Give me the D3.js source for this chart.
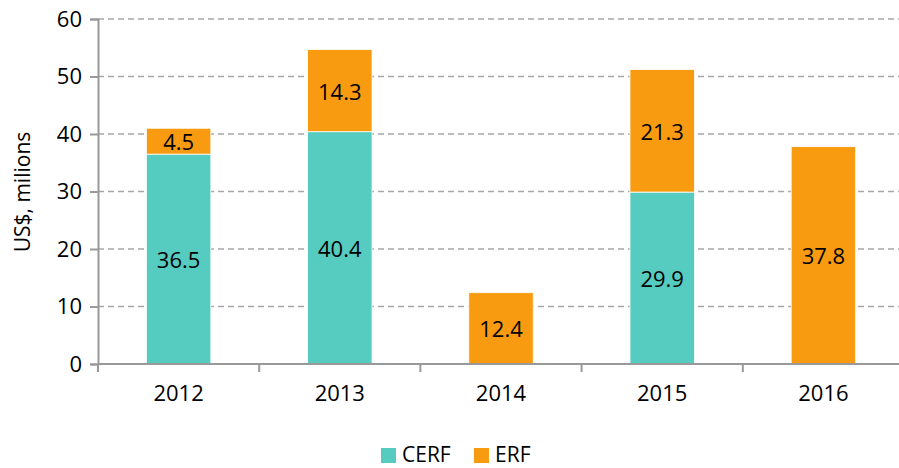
<!DOCTYPE html>
<html>
<head>
  <script src='https://d3js.org/d3.v7.min.js'></script>
  <style>
    body { margin: 0; background: #fff; }
    text { font-family: 'Open Sans', sans-serif; fill: #000; }
  </style>
</head>
<body>
  <svg id="canvas" width="899" height="468"></svg>
  <script>
    // chart data
    const years = ['2012', '2013', '2014', '2015', '2016'];
    const cerf = [36.5, 40.4, 0, 29.9, 0];
    const erf = [4.5, 14.3, 12.4, 21.3, 37.8];
    const yTicks = [0, 10, 20, 30, 40, 50, 60];
    const seriesNames = ['CERF', 'ERF'];
    const colors = ['#56CBC0', '#F99B10'];

    const svg = d3.select('svg#canvas');
    const margins = { top: 19, left: 98, right: -5, bottom: 104 };
    const width = 899 - margins.left - margins.right;
    const height = 468 - margins.top - margins.bottom;

    const chartArea = svg.append('g')
      .attr('transform', `translate(${margins.left}, ${margins.top})`);

    const xScale = d3.scaleBand().domain(years).range([0, width]).paddingInner(0.6).paddingOuter(0.3);
    const yScale = d3.scaleLinear().domain([0, 60]).range([height, 0]);

    // dashed gridlines
    chartArea.append('g')
      .selectAll('line')
      .data(yTicks.filter(d => d > 0))
      .join('line')
      .attr('x1', 0)
      .attr('x2', 899 - margins.left)
      .attr('y1', d => yScale(d))
      .attr('y2', d => yScale(d))
      .attr('stroke', '#A6A6A6')
      .attr('stroke-width', 1.5)
      .attr('stroke-dasharray', '6,4');

    // stacked bars
    const rows = years.map((y, i) => ({ year: y, CERF: cerf[i], ERF: erf[i] }));
    const stacked = d3.stack().keys(seriesNames)(rows);

    stacked.forEach((layer, k) => {
      chartArea.append('g')
        .selectAll('rect')
        .data(layer.filter(d => d[1] - d[0] > 0))
        .join('rect')
        .attr('x', d => xScale(d.data.year))
        .attr('y', d => yScale(d[1]))
        .attr('width', xScale.bandwidth())
        .attr('height', d => yScale(d[0]) - yScale(d[1]))
        .attr('fill', colors[k])
        .attr('stroke', '#fff')
        .attr('stroke-width', 0.8);

      chartArea.append('g')
        .selectAll('text')
        .data(layer.filter(d => d[1] - d[0] > 0))
        .join('text')
        .attr('x', d => xScale(d.data.year) + xScale.bandwidth() / 2)
        .attr('y', d => (yScale(d[0]) + yScale(d[1])) / 2)
        .attr('text-anchor', 'middle')
        .attr('dominant-baseline', 'central')
        .style('font-size', '22px')
        .text(d => (d[1] - d[0]).toFixed(1));
    });

    // y axis
    const yAxis = d3.axisLeft(yScale).tickValues(yTicks).tickSize(8).tickPadding(8);
    const yG = chartArea.append('g').call(yAxis);
    yG.select('.domain').attr('stroke', '#999').attr('stroke-width', 2);
    yG.selectAll('.tick line').attr('stroke', '#999').attr('stroke-width', 2);
    yG.selectAll('.tick text').style('font-size', '22px').style('font-family', "'Open Sans', sans-serif");

    // x axis with ticks between categories
    const xG = chartArea.append('g').attr('transform', `translate(0, ${height})`);
    xG.append('line')
      .attr('x1', 0).attr('x2', 899 - margins.left)
      .attr('stroke', '#999').attr('stroke-width', 2);
    xG.selectAll('line.sep')
      .data(d3.range(years.length + 1))
      .join('line')
      .attr('class', 'sep')
      .attr('x1', i => i * width / years.length)
      .attr('x2', i => i * width / years.length)
      .attr('y1', 0).attr('y2', 8)
      .attr('stroke', '#999').attr('stroke-width', 2);
    xG.selectAll('text')
      .data(years)
      .join('text')
      .attr('x', d => xScale(d) + xScale.bandwidth() / 2)
      .attr('y', 37)
      .attr('text-anchor', 'middle')
      .style('font-size', '22px')
      .text(d => d);

    // y axis title
    svg.append('text')
      .attr('transform', 'translate(22,192)rotate(-90)')
      .attr('text-anchor', 'middle')
      .attr('dominant-baseline', 'central')
      .style('font-size', '21px')
      .text('US$, milions');

    // legend
    const legendX = [381, 474];
    const legend = svg.append('g');
    seriesNames.forEach((name, i) => {
      legend.append('rect')
        .attr('x', legendX[i]).attr('y', 448)
        .attr('width', 15).attr('height', 15)
        .attr('fill', colors[i]);
      legend.append('text')
        .attr('x', legendX[i] + 21).attr('y', 454)
        .attr('dominant-baseline', 'central')
        .style('font-size', '21px')
        .text(name);
    });
  </script>
</body>
</html>
